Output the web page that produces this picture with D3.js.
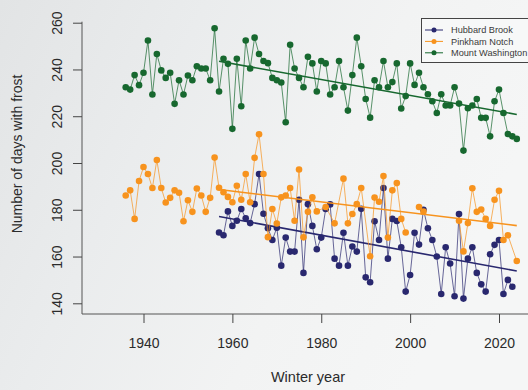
<!DOCTYPE html>
<html><head><meta charset="utf-8">
<script src="https://cdn.jsdelivr.net/npm/d3@7"></script>
<style>html,body{margin:0;padding:0;overflow:hidden;background:#eef0f0}</style>
</head><body><svg id="c" width="528" height="390"></svg>
<script>
// ---------- DATA ----------
const firstYear = 1936;
const lastYear = 2024;
const years = d3.range(firstYear, lastYear + 1);
const seriesNames = ["Hubbard Brook", "Pinkham Notch", "Mount Washington"];
const seriesColors = ["#29286f", "#f7931e", "#17682f"];
const yTicks = [140, 160, 180, 200, 220, 240, 260];
const xTicks = [1940, 1960, 1980, 2000, 2020];
const trendFrom = 1957;

// Hubbard Brook (1936..2024), null = no data
const hubbard = [
  null,null,null,null,null,null,null,null,null,null,
  null,null,null,null,null,null,null,null,null,null,
  null,
  170.3,169.1,179.3,173.1,175.3,180.3,176.4,174.3,182.4,195.3,
  178.3,172.1,167.1,172.3,156.1,168.1,162.1,162.1,184.3,153.0,
  182.4,173.1,163.1,168.1,180.3,182.3,159.1,156.1,170.2,156.1,
  164.3,162.1,180.4,151.1,149.0,175.1,167.1,189.3,159.1,176.1,
  175.2,164.0,145.0,152.1,170.2,165.1,180.0,172.1,167.1,160.0,
  144.0,164.0,157.0,143.0,178.2,142.0,159.1,164.0,153.0,148.1,
  145.0,161.0,165.0,167.1,144.0,150.0,147.1,null
];
// Pinkham Notch (1936..2024)
const pinkham = [
  186.1,188.3,176.1,192.3,198.3,195.3,189.3,201.3,189.3,183.1,
  185.1,188.3,187.3,175.1,184.1,179.1,189.1,186.1,179.1,185.1,
  202.3,
  189.4,187.5,185.5,183.2,190.3,184.3,195.3,183.2,202.2,212.3,
  195.3,168.3,180.3,174.1,185.3,186.1,189.3,175.3,197.2,168.2,
  179.1,185.3,179.3,null,181.2,null,174.2,null,193.3,174.2,
  178.2,182.4,189.3,null,160.1,185.2,183.4,194.4,168.1,188.3,
  191.4,176.1,170.3,null,null,181.2,179.2,null,null,null,
  null,null,null,null,175.3,162.2,174.3,189.2,179.1,180.1,
  176.1,173.1,184.3,188.1,167.1,169.1,null,158.1
];
// Mount Washington (1936..2024)
const washington = [
  232.4,231.4,237.6,233.3,238.6,252.4,229.3,246.6,239.6,236.4,
  238.6,225.3,235.4,229.3,237.4,235.4,241.4,240.4,240.4,235.4,
  257.6,
  230.6,244.6,242.4,214.6,244.6,224.3,252.4,240.4,253.6,246.6,
  243.6,242.7,236.4,235.4,234.4,217.4,250.6,240.4,236.4,232.4,
  245.4,242.6,230.6,243.6,242.6,229.3,232.4,243.6,232.4,222.4,
  237.6,253.6,241.4,227.4,219.4,235.4,232.4,243.6,232.4,234.6,
  242.6,223.3,228.6,242.6,233.4,238.6,232.4,229.4,226.4,221.4,
  229.4,224.6,224.6,232.4,225.4,205.3,223.4,224.6,227.4,219.3,
  219.3,211.4,226.4,231.4,221.4,212.4,211.4,210.3
];
const seriesValues = [hubbard, pinkham, washington];

// ---------- CHART ----------
const svg = d3.select("#c");
const W = 528, H = 390;
const defs = svg.append("defs");
const bg = defs.append("linearGradient").attr("id","bg")
  .attr("x1","0").attr("y1","0").attr("x2","1").attr("y2","0.35");
bg.append("stop").attr("offset","0").attr("stop-color","#e2e4e5");
bg.append("stop").attr("offset","0.35").attr("stop-color","#eaeced");
bg.append("stop").attr("offset","0.7").attr("stop-color","#f2f3f3");
bg.append("stop").attr("offset","1").attr("stop-color","#f5f6f6");
svg.append("rect").attr("width",W).attr("height",H).attr("fill","url(#bg)");

const x = d3.scaleLinear().domain([1940, 2020]).range([143.5, 499]);
const y = d3.scaleLinear().domain([140, 260]).range([303.3, 22.7]);
const axisX0 = 82, axisY0 = 314;

const font = "'Liberation Sans', Arial, sans-serif";
const txtCol = "#2b2b2b";

// L-shaped frame
svg.append("path")
  .attr("d", `M${axisX0},${y(260)-1}V${axisY0}H${W}`)
  .attr("fill","none").attr("stroke","#555").attr("stroke-width",1);

// Y axis
const gy = svg.append("g").attr("transform",`translate(${axisX0},0)`)
  .call(d3.axisLeft(y).tickValues(yTicks).tickSize(9).tickFormat(d3.format("d")));
gy.select(".domain").remove();
gy.selectAll("line").attr("stroke","#444");
gy.selectAll("text").attr("x",0).attr("y",-20).attr("dy",0)
  .attr("text-anchor","middle").attr("transform","rotate(-90)")
  .attr("font-family",font).attr("font-size",14).attr("fill",txtCol);

// X axis
const gx = svg.append("g").attr("transform",`translate(0,${axisY0})`)
  .call(d3.axisBottom(x).tickValues(xTicks).tickSize(9).tickFormat(d3.format("d")));
gx.select(".domain").remove();
gx.selectAll("line").attr("stroke","#444");
gx.selectAll("text").attr("y",34).attr("dy",0)
  .attr("font-family",font).attr("font-size",14).attr("fill",txtCol);

// Axis titles
svg.append("text").attr("x",308).attr("y",382).attr("text-anchor","middle")
  .attr("font-family",font).attr("font-size",14.5).attr("fill",txtCol).text("Winter year");
svg.append("text").attr("transform","translate(22,154) rotate(-90)").attr("text-anchor","middle")
  .attr("font-family",font).attr("font-size",14).attr("fill",txtCol).text("Number of days with frost");

// Series
seriesValues.forEach((vals, si) => {
  const col = seriesColors[si];
  const pts = years.map((yr,i)=>({yr, v: vals[i]})).filter(d => d.v != null);
  const segs = [];
  let cur = [];
  pts.forEach((p,i) => {
    if (i > 0 && p.yr - pts[i-1].yr > 2) { segs.push(cur); cur = []; }
    cur.push(p);
  });
  if (cur.length) segs.push(cur);
  const line = d3.line().x(d=>x(d.yr)).y(d=>y(d.v));
  const g = svg.append("g");
  segs.forEach(s => g.append("path").attr("d", line(s)).attr("fill","none")
    .attr("stroke", col).attr("stroke-opacity",0.7).attr("stroke-width",1));
  g.selectAll("circle").data(pts).join("circle")
    .attr("cx", d=>x(d.yr)).attr("cy", d=>y(d.v)).attr("r",3.3).attr("fill", col);
  // linear trend over common period
  const tp = pts.filter(d => d.yr >= trendFrom);
  const mx = d3.mean(tp, d=>d.yr), my = d3.mean(tp, d=>d.v);
  const slope = d3.sum(tp, d=>(d.yr-mx)*(d.v-my)) / d3.sum(tp, d=>(d.yr-mx)**2);
  const a = my - slope*mx;
  const t0 = trendFrom, t1 = lastYear;
  g.append("line").attr("x1",x(t0)).attr("y1",y(a+slope*t0))
    .attr("x2",x(t1)).attr("y2",y(a+slope*t1))
    .attr("stroke",col).attr("stroke-width",1.6);
});

// Legend
const lg = svg.append("g");
lg.append("rect").attr("x",421.5).attr("y",18.5).attr("width",120).attr("height",44)
  .attr("fill","#f7f8f8").attr("stroke","#444").attr("stroke-width",1);
seriesNames.forEach((n,i) => {
  const cy = 30 + i*11.4;
  lg.append("line").attr("x1",425).attr("x2",443).attr("y1",cy).attr("y2",cy)
    .attr("stroke",seriesColors[i]).attr("stroke-width",1);
  lg.append("circle").attr("cx",434).attr("cy",cy).attr("r",2.5).attr("fill",seriesColors[i]);
  lg.append("text").attr("x",451).attr("y",cy).attr("dy","0.35em")
    .attr("font-family",font).attr("font-size",9.2).attr("fill","#3a3a3a").text(n);
});
</script>
</body></html>
